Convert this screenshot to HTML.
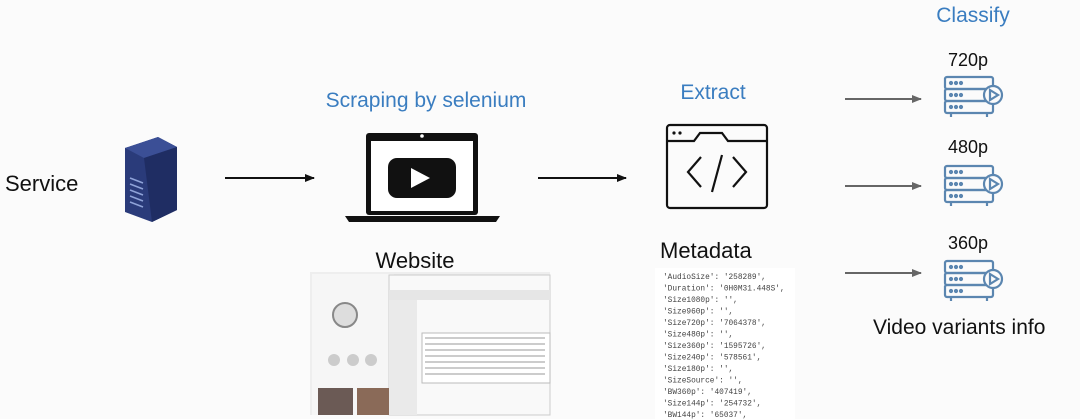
<!DOCTYPE html>
<html><head><meta charset="utf-8"><style>
html,body{margin:0;padding:0;background:#fbfbfb;}
svg{display:block}
text{font-family:"Liberation Sans",sans-serif}
text.m{font-family:"Liberation Mono",monospace;font-size:7.8px;fill:#444}
</style></head><body>
<svg width="1080" height="419" viewBox="0 0 1080 419" xmlns="http://www.w3.org/2000/svg">
<defs>
<marker id="ah" markerWidth="10" markerHeight="10" refX="9" refY="5" orient="auto" markerUnits="userSpaceOnUse"><path d="M0,1 L10,5 L0,9 z" fill="#111"/></marker>
<marker id="ag" markerWidth="10" markerHeight="10" refX="9" refY="5" orient="auto" markerUnits="userSpaceOnUse"><path d="M0,1 L10,5 L0,9 z" fill="#666"/></marker>
<g id="srv" fill="none" stroke="#5b86b0" stroke-width="2.2">
<rect x="2" y="2" width="48" height="12" rx="2"/>
<rect x="2" y="14" width="48" height="12" rx="2"/>
<rect x="2" y="26" width="48" height="12" rx="2"/>
<line x1="8" y1="38" x2="8" y2="42"/><line x1="44" y1="38" x2="44" y2="42"/>
<circle cx="8" cy="8" r="1" fill="#5b86b0"/><circle cx="13" cy="8" r="1" fill="#5b86b0"/><circle cx="18" cy="8" r="1" fill="#5b86b0"/>
<circle cx="8" cy="20" r="1" fill="#5b86b0"/><circle cx="13" cy="20" r="1" fill="#5b86b0"/><circle cx="18" cy="20" r="1" fill="#5b86b0"/>
<circle cx="8" cy="32" r="1" fill="#5b86b0"/><circle cx="13" cy="32" r="1" fill="#5b86b0"/><circle cx="18" cy="32" r="1" fill="#5b86b0"/>
<circle cx="50" cy="20" r="9" fill="#fbfbfb"/>
<path d="M47,15 L55,20 L47,25 z"/>
</g>
</defs>

<text x="5" y="191" font-size="22" fill="#111">Service</text>
<!-- server -->
<polygon points="125,148 158,137 177,147 177,210 152,222 125,212" fill="#2a3b7a"/>
<polygon points="125,148 158,137 177,147 144,158" fill="#3b4f96"/>
<polygon points="144,158 177,147 177,210 152,222" fill="#1f2d63"/>
<g stroke="#8fa3d8" stroke-width="1.5">
<line x1="130" y1="178" x2="143" y2="183"/><line x1="130" y1="184" x2="143" y2="189"/>
<line x1="130" y1="190" x2="143" y2="195"/><line x1="130" y1="196" x2="143" y2="201"/>
<line x1="130" y1="202" x2="143" y2="207"/>
</g>

<line x1="225" y1="178" x2="314" y2="178" stroke="#111" stroke-width="2" marker-end="url(#ah)"/>

<text x="426" y="107" font-size="21" fill="#3a7dc0" text-anchor="middle">Scraping by selenium</text>
<!-- laptop -->
<rect x="366" y="133" width="112" height="82" rx="3" fill="#111"/>
<rect x="371" y="141" width="102" height="70" fill="#fff"/>
<circle cx="422" cy="136" r="1.8" fill="#fff"/>
<path d="M345,216 L500,216 L496,222 L349,222 z" fill="#111"/>
<rect x="388" y="158" width="68" height="40" rx="9" fill="#111"/>
<path d="M411,168 L411,188 L430,178 z" fill="#fff"/>
<text x="415" y="268" font-size="22" fill="#111" text-anchor="middle">Website</text>
<!-- screenshot -->
<rect x="310" y="272" width="240" height="143" fill="#eee"/>
<rect x="312" y="274" width="82" height="141" fill="#f6f6f6"/>
<rect x="389" y="275" width="161" height="140" fill="#f9f9f9" stroke="#ccc"/>
<rect x="389" y="290" width="161" height="10" fill="#e6e6e6"/>
<rect x="389" y="300" width="28" height="115" fill="#eaeaea"/>
<rect x="422" y="333" width="128" height="50" fill="#fff" stroke="#bbb"/>
<g stroke="#999" stroke-width="1">
<line x1="425" y1="338" x2="545" y2="338"/><line x1="425" y1="344" x2="545" y2="344"/><line x1="425" y1="350" x2="545" y2="350"/><line x1="425" y1="356" x2="545" y2="356"/><line x1="425" y1="362" x2="545" y2="362"/><line x1="425" y1="368" x2="545" y2="368"/><line x1="425" y1="374" x2="545" y2="374"/>
</g>
<circle cx="345" cy="315" r="12" fill="#ddd" stroke="#888" stroke-width="2"/>
<circle cx="334" cy="360" r="6" fill="#ccc"/><circle cx="353" cy="360" r="6" fill="#ccc"/><circle cx="371" cy="360" r="6" fill="#ccc"/>
<rect x="318" y="388" width="35" height="27" fill="#6b5a55"/>
<rect x="357" y="388" width="32" height="27" fill="#8a6a58"/>

<line x1="538" y1="178" x2="626" y2="178" stroke="#111" stroke-width="2" marker-end="url(#ah)"/>

<text x="713" y="99" font-size="21" fill="#3a7dc0" text-anchor="middle">Extract</text>
<!-- code window -->
<g fill="none" stroke="#111" stroke-width="2.2">
<rect x="667" y="125" width="100" height="83" rx="3"/>
<path d="M667,141 L694,141 L700,133 L722,133 L728,141 L767,141"/>
<path d="M701,157 L688,172 L701,187"/>
<path d="M733,157 L746,172 L733,187"/>
<path d="M722,155 L712,192"/>
</g>
<circle cx="674" cy="133" r="1.6" fill="#111"/><circle cx="680" cy="133" r="1.6" fill="#111"/>
<text x="660" y="258" font-size="22" fill="#111">Metadata</text>
<rect x="655" y="268" width="140" height="151" fill="#fff"/>
<text class="m" x="663" y="279">'AudioSize': '258289',</text>
<text class="m" x="663" y="290.5">'Duration': '0H0M31.448S',</text>
<text class="m" x="663" y="302">'Size1080p': '',</text>
<text class="m" x="663" y="313.5">'Size960p': '',</text>
<text class="m" x="663" y="325">'Size720p': '7064378',</text>
<text class="m" x="663" y="336.5">'Size480p': '',</text>
<text class="m" x="663" y="348">'Size360p': '1595726',</text>
<text class="m" x="663" y="359.5">'Size240p': '578561',</text>
<text class="m" x="663" y="371">'Size180p': '',</text>
<text class="m" x="663" y="382.5">'SizeSource': '',</text>
<text class="m" x="663" y="394">'BW360p': '407419',</text>
<text class="m" x="663" y="405.5">'Size144p': '254732',</text>
<text class="m" x="663" y="417">'BW144p': '65037',</text>

<text x="973" y="22" font-size="21" fill="#3a7dc0" text-anchor="middle">Classify</text>
<text x="968" y="66" font-size="18" fill="#111" text-anchor="middle">720p</text>
<text x="968" y="153" font-size="18" fill="#111" text-anchor="middle">480p</text>
<text x="968" y="249" font-size="18" fill="#111" text-anchor="middle">360p</text>
<g stroke="#666" stroke-width="2">
<line x1="845" y1="99" x2="921" y2="99" marker-end="url(#ag)"/>
<line x1="845" y1="186" x2="921" y2="186" marker-end="url(#ag)"/>
<line x1="845" y1="273" x2="921" y2="273" marker-end="url(#ag)"/>
</g>
<use href="#srv" x="943" y="75"/>
<use href="#srv" x="943" y="164"/>
<use href="#srv" x="943" y="259"/>
<text x="873" y="334" font-size="21" fill="#111">Video variants info</text>
</svg>
</body></html>
